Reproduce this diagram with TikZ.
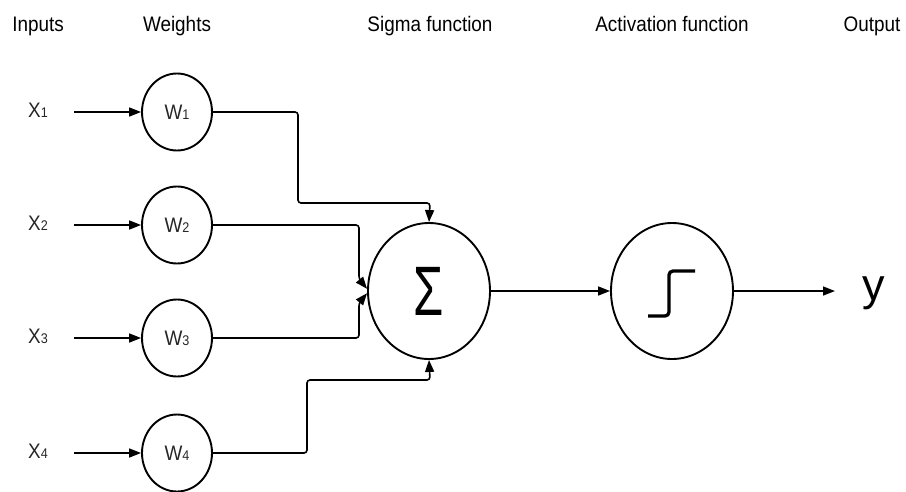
\documentclass[tikz,border=0pt]{standalone}
\usepackage{graphicx}
\usepackage{fontspec}
\setmainfont{Liberation Sans}
\usetikzlibrary{arrows.meta,shapes.geometric}
\newcommand\smalldigit[1]{{\fontsize{14}{14}\selectfont #1}}
\newcommand\narrow[1]{\scalebox{0.9}[1]{#1}}
\begin{document}
\begin{tikzpicture}[x=1pt,y=-1pt,
  hdr/.style={font=\fontsize{21}{22}\selectfont, inner sep=0, anchor=base},
  lbl/.style={font=\fontsize{21}{22}\selectfont, inner sep=0, anchor=base, text=black!85},
  wnode/.style={ellipse, draw, line width=1.9pt, minimum width=70pt, minimum height=77pt, inner sep=0,
    font=\fontsize{21}{22}\selectfont, text=black!85},
  bignode/.style={ellipse, draw, line width=1.9pt, minimum width=122pt, minimum height=136pt, inner sep=0},
  conn/.style={line width=1.6pt, rounded corners=3pt, -{Triangle[length=12pt,width=9pt]}},
]
\useasboundingbox (0,0) rectangle (906,491);

% headers
\node[hdr] (hIn)  at (38,31)  {\narrow{Inputs}};
\node[hdr] (hW)   at (177,31) {\narrow{Weights}};
\node[hdr] (hSig) at (430,31) {\narrow{Sigma function}};
\node[hdr] (hAct) at (672,31) {\narrow{Activation function}};
\node[hdr] (hOut) at (872,31) {\narrow{Output}};

% input labels
\node[lbl] (x1) at (38,117) {\narrow{X\smalldigit{1}}};
\node[lbl] (x2) at (38,230) {\narrow{X\smalldigit{2}}};
\node[lbl] (x3) at (38,343) {\narrow{X\smalldigit{3}}};
\node[lbl] (x4) at (38,458) {\narrow{X\smalldigit{4}}};

\coordinate (a1) at (74,112);
\coordinate (a2) at (74,225);
\coordinate (a3) at (74,338);
\coordinate (a4) at (74,453);

% weights
\node[wnode] (w1) at (177,112) {\narrow{W\smalldigit{1}}};
\node[wnode] (w2) at (177,225) {\narrow{W\smalldigit{2}}};
\node[wnode] (w3) at (177,338) {\narrow{W\smalldigit{3}}};
\node[wnode] (w4) at (177,453) {\narrow{W\smalldigit{4}}};

% sigma and activation
\node[bignode, font=\fontsize{70}{70}\selectfont] (sg) at (429,291) {\scalebox{0.7}[1]{Σ}};
\node[bignode] (act) at (672,291) {};

\node[font=\fontsize{45}{45}\selectfont, inner sep=0, anchor=base] (y) at (874,300) {y};

% step symbol
\draw[line width=3.3pt, rounded corners=4pt] (648,316) -- (669,316) -- (669,271) -- (695,271);

% connectors
\draw[conn] (a1) -- (w1);
\draw[conn] (a2) -- (w2);
\draw[conn] (a3) -- (w3);
\draw[conn] (a4) -- (w4);

\draw[conn] (w1.east) -- (298,112) -- (298,203) -- (430,203) -- (sg.north);
\draw[conn] (w2.east) -- (359,225) -- (359,279) -- (sg.178);
\draw[conn] (w3.east) -- (359,338) -- (359,303) -- (sg.182);
\draw[conn] (w4.east) -- (307,453) -- (307,380) -- (430,380) -- (sg.south);

\draw[conn] (sg.east) -- (act.west);
\draw[conn] (act.east) -- (835,291);
\end{tikzpicture}
\end{document}
